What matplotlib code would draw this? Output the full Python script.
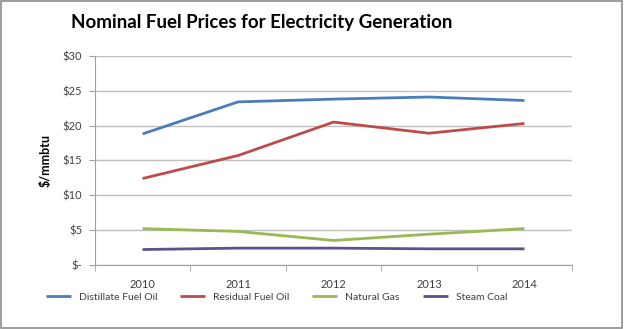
import matplotlib
matplotlib.use("Agg")
import matplotlib.pyplot as plt
import numpy as np

years = ["2010", "2011", "2012", "2013", "2014"]
distillate = [18.8, 23.4, 23.8, 24.1, 23.6]
residual = [12.4, 15.7, 20.5, 18.9, 20.3]
natural_gas = [5.2, 4.8, 3.5, 4.4, 5.2]
steam_coal = [2.2, 2.4, 2.4, 2.3, 2.3]

series = [
    ("Distillate Fuel Oil", distillate, "#4a7ebb"),
    ("Residual Fuel Oil", residual, "#be4b48"),
    ("Natural Gas", natural_gas, "#98b954"),
    ("Steam Coal", steam_coal, "#5b5390"),
]

plt.rcParams['font.family'] = ['Lato', 'DejaVu Sans']

fig = plt.figure(figsize=(6.24, 3.29), dpi=100)
fig.patch.set_facecolor("white")
# outer chart border
fig.add_artist(plt.Rectangle((0.002, 0.003), 0.995, 0.994, transform=fig.transFigure,
                             fill=False, edgecolor="#8c8c8c", linewidth=1.2))

ax = fig.add_axes([0.152, 0.195, 0.765, 0.635])
x = np.arange(len(years))
for label, vals, color in series:
    ax.plot(x, vals, color=color, linewidth=2.0, label=label, solid_capstyle="butt")

ax.set_xlim(-0.5, len(years) - 0.5)
ax.set_ylim(0, 30)
ax.set_yticks(np.arange(0, 31, 5))
ax.set_yticklabels(["$-"] + ["$%d" % v for v in range(5, 31, 5)])
ax.set_xticks(x)
ax.set_xticklabels(years)
ax.set_xticks(np.arange(-0.5, len(years), 1), minor=True)
ax.tick_params(axis="x", which="major", length=0, pad=10, labelsize=8, colors="#404040")
ax.tick_params(axis="x", which="minor", length=4, color="#a0a0a0", direction="out")
ax.tick_params(axis="y", length=4, color="#a0a0a0", labelsize=8, labelcolor="#404040", pad=5)
ax.yaxis.grid(True, color="#c0c0c0", linewidth=1)
ax.set_axisbelow(True)
for s in ["top", "right"]:
    ax.spines[s].set_visible(False)
for s in ["left", "bottom"]:
    ax.spines[s].set_color("#a0a0a0")
ax.set_ylabel("$/mmbtu", fontsize=9, fontweight="bold", labelpad=8)

fig.text(0.42, 0.933, "Nominal Fuel Prices for Electricity Generation", ha="center", va="center",
         fontsize=13.5, fontweight="bold")

fig.legend(loc="center", bbox_to_anchor=(0.443, 0.097), ncol=4, frameon=False, fontsize=7.5,
           handlelength=2.4, columnspacing=2.2, handletextpad=0.77, labelcolor="#404040")

fig.savefig("out.png", dpi=100)
